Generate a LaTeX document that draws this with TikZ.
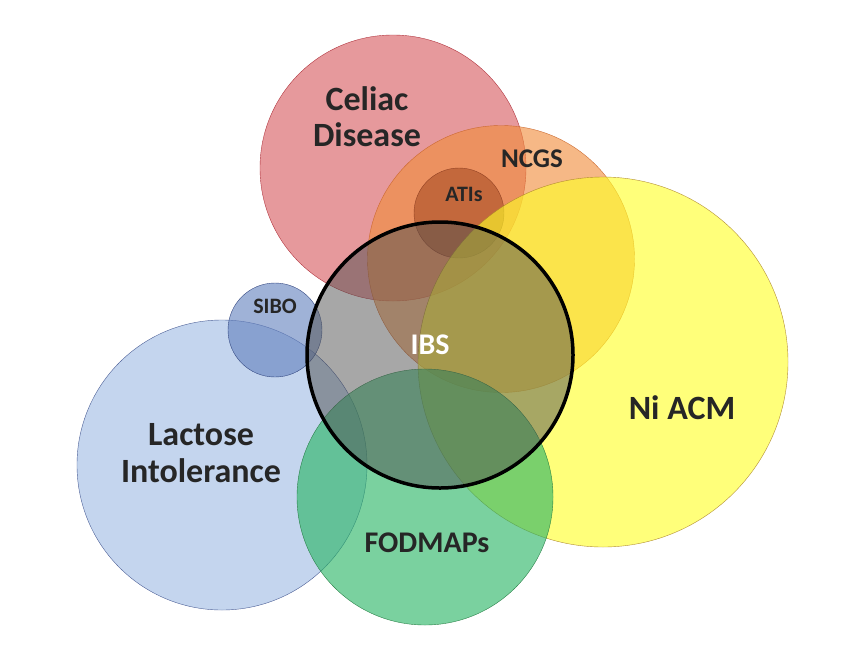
\documentclass[tikz,border=0pt]{standalone}
\usepackage{fontspec}
\setmainfont{Carlito}
\usetikzlibrary{positioning}
\tikzset{set/.style={circle,draw,inner sep=0pt,fill opacity=0.62,draw opacity=0.9},
         set label/.style={font=\bfseries,align=center,text=black!85}
}
\begin{document}
\begin{tikzpicture}[x=1pt,y=-1pt]
\useasboundingbox (0,0) rectangle (850,659);
% circles
\node[set,minimum size=290,fill={rgb,255:red,160;green,188;blue,228},draw={rgb,255:red,60;green,80;blue,140}] (lactose) at (222,465) {};
\node[set,minimum size=94,fill={rgb,255:red,100;green,130;blue,190},draw={rgb,255:red,40;green,60;blue,120}] (sibo) at (275,330) {};
\node[set,minimum size=266,fill={rgb,255:red,215;green,90;blue,95},draw={rgb,255:red,170;green,40;blue,50}] (celiac) at (393,168) {};
\node[set,minimum size=267,fill={rgb,255:red,240;green,140;blue,60},draw={rgb,255:red,200;green,100;blue,40}] (ncgs) at (501,259) {};
\node[set,minimum size=90,fill={rgb,255:red,170;green,80;blue,40},draw={rgb,255:red,140;green,60;blue,30}] (atis) at (459,213) {};
\node[set,minimum size=370,fill={rgb,255:red,255;green,255;blue,40},draw={rgb,255:red,170;green,130;blue,40}] (niacm) at (603,362) {};
\node[set,minimum size=256,fill={rgb,255:red,40;green,180;blue,100},draw={rgb,255:red,30;green,120;blue,60}] (fodmaps) at (425,497) {};
\node[set,minimum size=266,fill={rgb,255:red,80;green,80;blue,80},fill opacity=0.5,draw=black,draw opacity=1,line width=3.5pt] (ibs) at (440,355) {};
% labels
\node[set label,font=\bfseries\fontsize{34}{36}\selectfont] at (367,117) {Celiac\\Disease};
\node[set label,font=\bfseries\fontsize{27}{30}\selectfont] at (532,159) {NCGS};
\node[set label,font=\bfseries\fontsize{22}{24}\selectfont] at (464,194) {ATIs};
\node[set label,font=\bfseries\fontsize{22}{24}\selectfont] at (275,306) {SIBO};
\node[set label,font=\bfseries\fontsize{30}{32}\selectfont,text=white] at (430,345) {IBS};
\node[set label,font=\bfseries\fontsize{34}{37}\selectfont] at (201,453) {Lactose\\Intolerance};
\node[set label,font=\bfseries\fontsize{30}{32}\selectfont] at (427,543) {FODMAPs};
\node[set label,font=\bfseries\fontsize{34}{36}\selectfont] at (682,408) {Ni ACM};
\end{tikzpicture}
\end{document}
